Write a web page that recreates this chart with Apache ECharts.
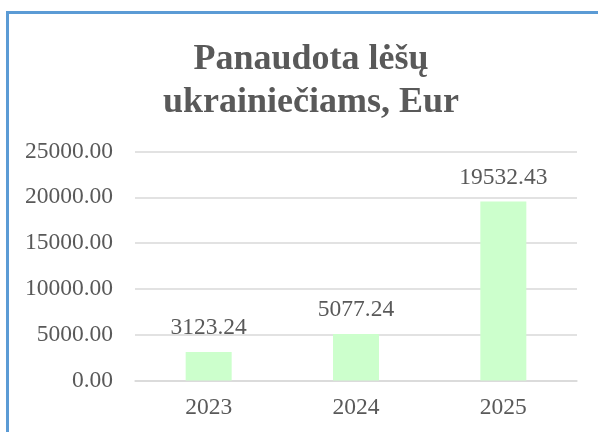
<!DOCTYPE html>
<html>
<head>
<meta charset="utf-8">
<style>
  html, body { margin: 0; padding: 0; background: #fff; }
  #frame {
    position: absolute; left: 6px; top: 11px; right: -10px; bottom: -10px;
    border-left: 3px solid #5B9BD5; border-top: 3px solid #5B9BD5;
    box-sizing: border-box; pointer-events: none; z-index: 2;
  }
  #chart { position: absolute; left: 0; top: 0; width: 598px; height: 432px; }
</style>
<script src="https://cdn.jsdelivr.net/npm/echarts@6/dist/echarts.min.js"></script>
</head>
<body>
<div id="chart"></div>
<div id="frame"></div>
<script>
const titleText = 'Panaudota lėšų\nukrainiečiams, Eur';
const years = ['2023', '2024', '2025'];
const spent = [3123.24, 5077.24, 19532.43];
const yMin = 0, yMax = 25000, yStep = 5000;

const serif = '"Liberation Serif", "Times New Roman", serif';
const grey = '#595959';

const chart = echarts.init(document.getElementById('chart'), null, { renderer: 'canvas' });
chart.setOption({
  animation: false,
  backgroundColor: '#fff',
  title: {
    text: titleText,
    left: 306,
    textAlign: 'center',
    top: 33,
    textStyle: {
      fontFamily: serif, fontWeight: 'bold', fontSize: 36,
      lineHeight: 43, color: grey
    }
  },
  grid: { left: 135, right: 21, top: 151.5, bottom: 51.5, containLabel: false },
  xAxis: {
    type: 'category',
    data: years,
    axisLine: { show: true, lineStyle: { color: '#d9d9d9', width: 1.5 } },
    axisTick: { show: false },
    axisLabel: { fontFamily: serif, fontSize: 23.5, color: grey, margin: 15 }
  },
  yAxis: {
    type: 'value',
    min: yMin, max: yMax, interval: yStep,
    axisLine: { show: false },
    axisTick: { show: false },
    splitLine: { lineStyle: { color: '#d9d9d9', width: 1.5 } },
    axisLabel: {
      fontFamily: serif, fontSize: 23.5, color: grey, margin: 22,
      formatter: v => v.toFixed(2)
    }
  },
  series: [{
    type: 'bar',
    data: spent,
    barWidth: 46,
    itemStyle: { color: '#CCFFCC' },
    label: {
      show: true, position: 'top', distance: 12,
      fontFamily: serif, fontSize: 23.5, color: grey,
      formatter: p => p.value.toFixed(2)
    }
  }]
});
</script>
</body>
</html>
